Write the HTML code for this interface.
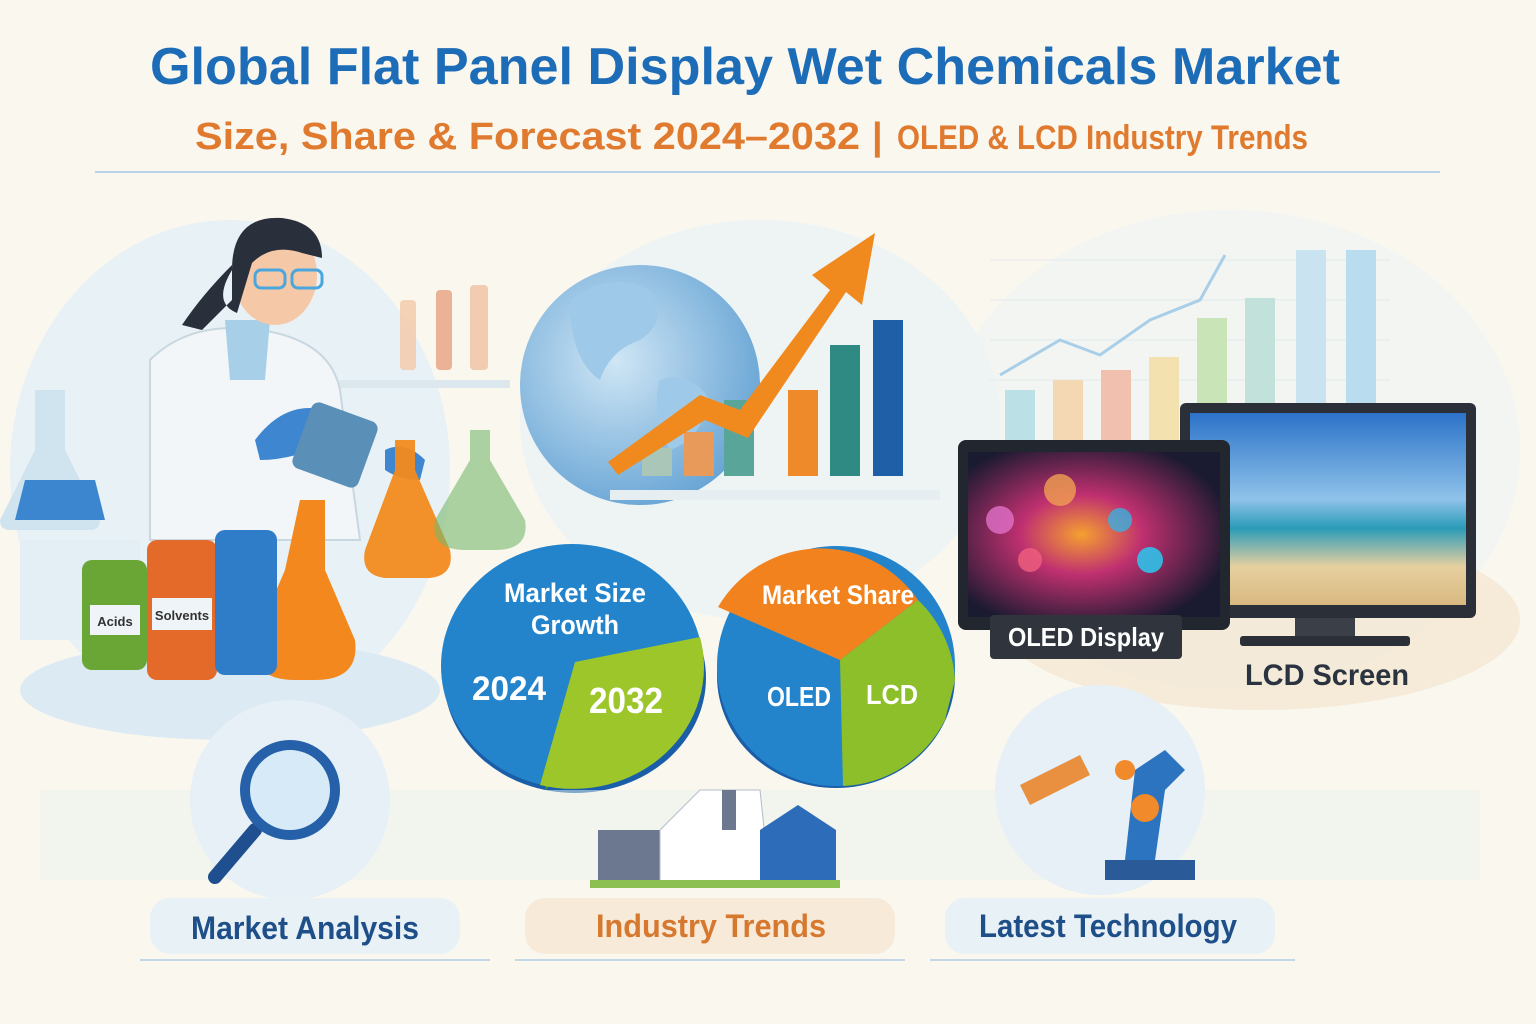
<!DOCTYPE html>
<html><head><meta charset="utf-8"><style>
html,body{margin:0;padding:0;background:#faf7ef;}
svg{display:block}
text{font-family:"Liberation Sans",sans-serif;font-weight:bold}
</style></head><body>
<svg width="1536" height="1024" viewBox="0 0 1536 1024" xmlns="http://www.w3.org/2000/svg">
<defs>
<radialGradient id="glob" cx="0.4" cy="0.4" r="0.7"><stop offset="0" stop-color="#cfe6f5"/><stop offset="1" stop-color="#5f9fd2"/></radialGradient>
<radialGradient id="oled" cx="0.45" cy="0.5" r="0.6"><stop offset="0" stop-color="#f5a030"/><stop offset="0.4" stop-color="#c03070"/><stop offset="1" stop-color="#1a1a30"/></radialGradient>
<linearGradient id="lcd" x1="0" y1="0" x2="0" y2="1"><stop offset="0" stop-color="#2c72c8"/><stop offset="0.45" stop-color="#8fc3ea"/><stop offset="0.6" stop-color="#2a9bb8"/><stop offset="0.8" stop-color="#e6d0a0"/><stop offset="1" stop-color="#d9b880"/></linearGradient>
</defs>
<rect width="1536" height="1024" fill="#faf7ef"/>
<ellipse cx="230" cy="470" rx="220" ry="250" fill="#e4eff6" opacity="0.8"/>
<ellipse cx="760" cy="420" rx="240" ry="200" fill="#e8f1f6" opacity="0.7"/>
<ellipse cx="1230" cy="450" rx="290" ry="240" fill="#eef3f4" opacity="0.7"/>
<ellipse cx="1260" cy="620" rx="260" ry="90" fill="#f3e6cf" opacity="0.7"/>
<ellipse cx="230" cy="690" rx="210" ry="50" fill="#dceaf3"/>
<text x="150" y="84" font-size="52" fill="#1d6cb8" textLength="1190" lengthAdjust="spacingAndGlyphs">Global Flat Panel Display Wet Chemicals Market</text>
<text x="195" y="149" font-size="38" fill="#e07a2e" textLength="665" lengthAdjust="spacingAndGlyphs">Size, Share &amp; Forecast 2024–2032</text>
<text x="872" y="149" font-size="38" fill="#e07a2e" font-weight="normal">|</text>
<text x="897" y="149" font-size="34" fill="#e07a2e" font-weight="normal" textLength="411" lengthAdjust="spacingAndGlyphs">OLED &amp; LCD Industry Trends</text>
<line x1="95" y1="172" x2="1440" y2="172" stroke="#b9d3e6" stroke-width="2"/>
<g opacity="0.55">
<g stroke="#d5e2ea" stroke-width="1">
<line x1="990" y1="260" x2="1390" y2="260"/><line x1="990" y1="300" x2="1390" y2="300"/><line x1="990" y1="340" x2="1390" y2="340"/><line x1="990" y1="380" x2="1390" y2="380"/>
</g>
<rect x="1005" y="390" width="30" height="60" fill="#8fd0dc"/>
<rect x="1053" y="380" width="30" height="70" fill="#f6c080"/>
<rect x="1101" y="370" width="30" height="80" fill="#f3957a"/>
<rect x="1149" y="357" width="30" height="93" fill="#f5d27a"/>
<rect x="1197" y="318" width="30" height="132" fill="#a8d88a"/>
<rect x="1245" y="298" width="30" height="152" fill="#9bd2c8"/>
<rect x="1296" y="250" width="30" height="200" fill="#a8d5f0"/>
<rect x="1346" y="250" width="30" height="200" fill="#8cc8ee"/>
<polyline points="1000,375 1060,340 1100,355 1150,320 1200,300 1225,255" fill="none" stroke="#6fb0e0" stroke-width="3"/>
</g>
<circle cx="640" cy="385" r="120" fill="url(#glob)"/>
<path d="M570,300 q40,-30 80,-10 q20,30 -10,50 q-30,10 -40,40 q-30,-20 -30,-80z M660,380 q30,-10 50,20 q-10,40 -40,50 q-20,-30 -10,-70z" fill="#9ec9e8"/>
<rect x="610" y="490" width="330" height="10" fill="#e6eef2"/>
<rect x="642" y="448" width="30" height="28" fill="#a9c6b8"/>
<rect x="684" y="432" width="30" height="44" fill="#e89a5a"/>
<rect x="724" y="400" width="30" height="76" fill="#5aa59a"/>
<rect x="788" y="390" width="30" height="86" fill="#ef8a2a"/>
<rect x="830" y="345" width="30" height="131" fill="#2f8a84"/>
<rect x="873" y="320" width="30" height="156" fill="#1f5fa8"/>
<path d="M608,462 L700,395 L740,410 L830,290 L812,275 L875,233 L862,305 L846,292 L748,438 L705,420 L618,475Z" fill="#f18a1e"/>
<rect x="20" y="540" width="120" height="100" fill="#e4eef5"/>
<rect x="330" y="380" width="180" height="8" fill="#dde8ee"/>
<rect x="400" y="300" width="16" height="70" rx="4" fill="#f3c8a8" opacity="0.8"/>
<rect x="436" y="290" width="16" height="80" rx="4" fill="#e9a080" opacity="0.8"/>
<rect x="470" y="285" width="18" height="85" rx="4" fill="#f0c0a0" opacity="0.8"/>
<path d="M35,390 h30 v60 l35,70 q0,10 -10,10 h-80 q-10,0 -10,-10 l35,-70z" fill="#d0e4f0"/>
<path d="M25,480 h70 l10,40 h-90z" fill="#3c86d0"/>
<path d="M150,360 q40,-40 110,-30 q70,10 80,60 l20,150 h-210z" fill="#f3f6f8" stroke="#c9d7e0" stroke-width="2"/>
<path d="M225,320 h45 l-5,60 h-35z" fill="#a8cfe8"/>
<ellipse cx="275" cy="275" rx="42" ry="50" fill="#f5c9a8"/>
<path d="M232,270 q0,-55 50,-52 q40,5 40,40 l-20,-5 q-30,-10 -50,10 l-15,50 q-25,-10 -5,-43z M232,265 q-30,30 -50,60 l20,5 q20,-20 30,-30z" fill="#2a2f3c"/>
<rect x="255" y="270" width="30" height="18" rx="6" fill="none" stroke="#4aa6dc" stroke-width="3"/>
<rect x="292" y="270" width="30" height="18" rx="6" fill="none" stroke="#4aa6dc" stroke-width="3"/>
<path d="M255,440 q30,-40 70,-30 l10,30 q-40,20 -75,20z" fill="#3f86d0"/>
<rect x="300" y="410" width="70" height="70" rx="8" fill="#5a8fb8" transform="rotate(20 335 445)"/>
<path d="M385,450 q20,-10 40,10 l-5,20 q-20,0 -35,-10z" fill="#3f86d0"/>
<path d="M395,440 h20 v30 l35,80 q5,25 -20,28 h-45 q-25,-3 -20,-28 l30,-80z" fill="#f28a1e" opacity="0.95"/>
<path d="M470,430 h20 v30 l35,60 q5,30 -30,30 h-30 q-35,0 -30,-30 l35,-60z" fill="#78b86a" opacity="0.6"/>
<path d="M300,500 h25 v70 l30,70 q5,40 -40,40 h-20 q-45,0 -40,-40 l30,-70z" fill="#f2881e"/>
<rect x="82" y="560" width="65" height="110" rx="10" fill="#6aa636"/>
<rect x="90" y="605" width="50" height="30" fill="#eef4f8"/>
<text x="115" y="626" text-anchor="middle" font-size="13" fill="#333" font-weight="normal">Acids</text>
<rect x="147" y="540" width="70" height="140" rx="10" fill="#e46a2a"/>
<rect x="152" y="598" width="60" height="32" fill="#eef4f8"/>
<text x="182" y="620" text-anchor="middle" font-size="13" fill="#333" font-weight="normal">Solvents</text>
<rect x="215" y="530" width="62" height="145" rx="10" fill="#2f7dc8"/>
<ellipse cx="575" cy="678" rx="131" ry="115" fill="#1b5ea8"/>
<path d="M575,678 L545,790 L703,650 Z" fill="#4f9a2c"/>
<ellipse cx="572" cy="666" rx="131" ry="122" fill="#2384cc"/>
<path d="M575,662 L700,637 A131,122 0 0 1 540,785 Z" fill="#9cc62a"/>
<text x="575" y="602" text-anchor="middle" font-size="27" fill="#fff" textLength="142" lengthAdjust="spacingAndGlyphs">Market Size</text>
<text x="575" y="634" text-anchor="middle" font-size="27" fill="#fff" textLength="88" lengthAdjust="spacingAndGlyphs">Growth</text>
<text x="509" y="700" text-anchor="middle" font-size="34" fill="#fff" textLength="74" lengthAdjust="spacingAndGlyphs">2024</text>
<text x="626" y="713" text-anchor="middle" font-size="36" fill="#fff" textLength="74" lengthAdjust="spacingAndGlyphs">2032</text>
<ellipse cx="836" cy="676" rx="119" ry="112" fill="#1b5ea8"/>
<ellipse cx="836" cy="666" rx="119" ry="120" fill="#2384cc"/>
<path d="M840,660 L718,607 A119,120 0 0 1 918,600 Z" fill="#f2821e"/>
<path d="M840,660 L918,600 A119,120 0 0 1 955,680 L945,720 A119,120 0 0 1 843,786 Z" fill="#8cbf2a"/>
<text x="838" y="604" text-anchor="middle" font-size="27" fill="#fff" textLength="152" lengthAdjust="spacingAndGlyphs">Market Share</text>
<text x="799" y="706" text-anchor="middle" font-size="28" fill="#fff" textLength="64" lengthAdjust="spacingAndGlyphs">OLED</text>
<text x="892" y="704" text-anchor="middle" font-size="28" fill="#fff" textLength="52" lengthAdjust="spacingAndGlyphs">LCD</text>
<rect x="1180" y="403" width="296" height="215" rx="6" fill="#2a2f38"/>
<rect x="1190" y="413" width="276" height="192" fill="url(#lcd)"/>
<rect x="1295" y="618" width="60" height="20" fill="#3a3f48"/>
<rect x="1240" y="636" width="170" height="10" rx="3" fill="#2a2f38"/>
<rect x="958" y="440" width="272" height="190" rx="8" fill="#22262e"/>
<rect x="968" y="452" width="252" height="165" fill="url(#oled)"/>
<circle cx="1000" cy="520" r="14" fill="#e070c8" opacity="0.8"/><circle cx="1060" cy="490" r="16" fill="#f0a050" opacity="0.8"/><circle cx="1150" cy="560" r="13" fill="#30c0e8" opacity="0.9"/><circle cx="1120" cy="520" r="12" fill="#3ab0e0" opacity="0.8"/><circle cx="1030" cy="560" r="12" fill="#f06080" opacity="0.8"/>
<rect x="990" y="615" width="192" height="44" rx="4" fill="#30343c"/>
<text x="1086" y="646" text-anchor="middle" font-size="26" fill="#fff" textLength="156" lengthAdjust="spacingAndGlyphs">OLED Display</text>
<text x="1327" y="685" text-anchor="middle" font-size="30" fill="#2a3340" textLength="164" lengthAdjust="spacingAndGlyphs">LCD Screen</text>
<rect x="40" y="790" width="1440" height="90" fill="#eaf2ee" opacity="0.5"/>
<circle cx="290" cy="800" r="100" fill="#e6f0f6"/>
<circle cx="1100" cy="790" r="105" fill="#e6f0f6"/>
<line x1="215" y1="877" x2="255" y2="830" stroke="#1f4f8f" stroke-width="14" stroke-linecap="round"/>
<circle cx="290" cy="790" r="45" fill="#d6ebf7" stroke="#2560a8" stroke-width="10"/>
<rect x="598" y="830" width="100" height="55" fill="#6c7890"/>
<path d="M660,830 l40,-40 h60 l10,95 h-110z" fill="#fff" stroke="#b0bcc8"/>
<path d="M760,830 l38,-25 l38,25 v55 h-76z" fill="#2c6cb8"/>
<rect x="722" y="790" width="14" height="40" fill="#6c7890"/>
<rect x="590" y="880" width="250" height="8" fill="#8cc050"/>
<path d="M1105,880 h90 v-20 h-90z" fill="#2a5a98"/>
<path d="M1125,860 l10,-90 l30,-20 l20,20 l-20,20 l-10,70z" fill="#2d74c0"/>
<circle cx="1145" cy="808" r="14" fill="#f08a2a"/><circle cx="1125" cy="770" r="10" fill="#f08a2a"/>
<path d="M1020,785 l60,-30 l10,20 l-60,30z" fill="#e89040"/>
<rect x="150" y="898" width="310" height="56" rx="20" fill="#e8f1f6"/>
<rect x="525" y="898" width="370" height="56" rx="20" fill="#f7ead8"/>
<rect x="945" y="898" width="330" height="56" rx="20" fill="#e8f1f6"/>
<text x="305" y="939" text-anchor="middle" font-size="32" fill="#1f4f88" textLength="228" lengthAdjust="spacingAndGlyphs">Market Analysis</text>
<text x="711" y="937" text-anchor="middle" font-size="32" fill="#d6782e" textLength="230" lengthAdjust="spacingAndGlyphs">Industry Trends</text>
<text x="1108" y="937" text-anchor="middle" font-size="32" fill="#1f4f88" textLength="258" lengthAdjust="spacingAndGlyphs">Latest Technology</text>
<line x1="140" y1="960" x2="490" y2="960" stroke="#c4d7e6" stroke-width="2"/>
<line x1="515" y1="960" x2="905" y2="960" stroke="#c4d7e6" stroke-width="2"/>
<line x1="930" y1="960" x2="1295" y2="960" stroke="#c4d7e6" stroke-width="2"/>
</svg>
</body></html>
